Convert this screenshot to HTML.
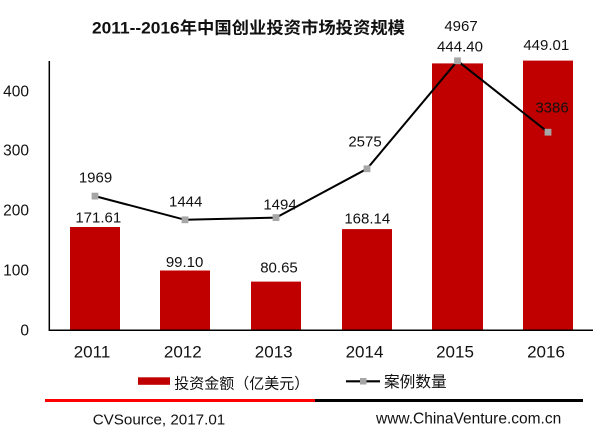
<!DOCTYPE html>
<html>
<head>
<meta charset="utf-8">
<style>
  html, body { margin:0; padding:0; background:#fff; }
  svg { display:block; }
  text { font-family: "Liberation Sans", "Noto Sans CJK SC", sans-serif; fill:#111; }
</style>
</head>
<body>
<svg width="610" height="432" viewBox="0 0 610 432" xmlns="http://www.w3.org/2000/svg">
  <rect x="0" y="0" width="610" height="432" fill="#fff"/>

  <!-- Title -->
  <text x="92" y="33.3" font-size="16.5" font-weight="bold" textLength="313" lengthAdjust="spacingAndGlyphs">2011--2016年中国创业投资市场投资规模</text>

  <!-- Y tick labels -->
  <g font-size="15.5" text-anchor="end">
    <text x="29" y="96.5">400</text>
    <text x="29" y="155.5">300</text>
    <text x="29" y="215.5">200</text>
    <text x="29" y="275.5">100</text>
    <text x="29" y="335.5">0</text>
  </g>

  <!-- Bars -->
  <g fill="#C00000">
    <rect x="70" y="227" width="50" height="103"/>
    <rect x="160" y="270.5" width="50" height="59.5"/>
    <rect x="251" y="281.6" width="50" height="48.4"/>
    <rect x="342" y="229.1" width="50" height="100.9"/>
    <rect x="432" y="63.4" width="51" height="266.6"/>
    <rect x="523" y="60.6" width="50" height="269.4"/>
  </g>

  <!-- Axes -->
  <line x1="49.3" y1="61" x2="49.3" y2="331" stroke="#000" stroke-width="1.5"/>
  <line x1="49" y1="330.3" x2="593" y2="330.3" stroke="#000" stroke-width="1.5"/>

  <!-- Line series -->
  <polyline points="95,196.1 185,219.8 276,217.6 367,168.8 457.5,60.8 548,132.2" fill="none" stroke="#000" stroke-width="2"/>
  <g fill="#A6A6A6">
    <rect x="91.6" y="192.7" width="6.8" height="6.8"/>
    <rect x="181.6" y="216.4" width="6.8" height="6.8"/>
    <rect x="272.6" y="214.2" width="6.8" height="6.8"/>
    <rect x="363.6" y="165.4" width="6.8" height="6.8"/>
    <rect x="454.1" y="57.4" width="6.8" height="6.8"/>
    <rect x="544.6" y="128.8" width="6.8" height="6.8"/>
  </g>

  <!-- Data labels -->
  <g font-size="15" text-anchor="middle">
    <text x="95.5" y="182.4">1969</text>
    <text x="98.3" y="222.3">171.61</text>
    <text x="185.7" y="206.7">1444</text>
    <text x="184.6" y="267.2">99.10</text>
    <text x="280" y="209.3">1494</text>
    <text x="279" y="272.7">80.65</text>
    <text x="365" y="146.3">2575</text>
    <text x="367.3" y="223.3">168.14</text>
    <text x="461" y="31">4967</text>
    <text x="460" y="51.7">444.40</text>
    <text x="546.3" y="50">449.01</text>
    <text x="552" y="112.3">3386</text>
  </g>

  <!-- Category labels -->
  <g font-size="17" text-anchor="middle">
    <text x="92" y="357.3">2011</text>
    <text x="182.8" y="357.3">2012</text>
    <text x="273.7" y="357.3">2013</text>
    <text x="364.5" y="357.3">2014</text>
    <text x="455" y="357.3">2015</text>
    <text x="546" y="357.3">2016</text>
  </g>

  <!-- Legend -->
  <rect x="138" y="377.3" width="32" height="7.5" fill="#C00000"/>
  <text x="174.3" y="388.7" font-size="15" textLength="135" lengthAdjust="spacingAndGlyphs">投资金额（亿美元）</text>
  <line x1="346" y1="381.3" x2="380" y2="381.3" stroke="#000" stroke-width="2.2"/>
  <rect x="360" y="378" width="6.5" height="6.5" fill="#A6A6A6"/>
  <text x="384" y="387" font-size="15.5" textLength="62.7" lengthAdjust="spacingAndGlyphs">案例数量</text>

  <!-- Footer rule -->
  <rect x="45" y="399" width="270" height="3" fill="#FF0000"/>
  <rect x="315" y="399" width="268" height="3" fill="#000"/>

  <!-- Footer text -->
  <text x="92.7" y="424.3" font-size="15.2">CVSource, 2017.01</text>
  <text x="376" y="423.5" font-size="15.5">www.ChinaVenture.com.cn</text>
</svg>
</body>
</html>
